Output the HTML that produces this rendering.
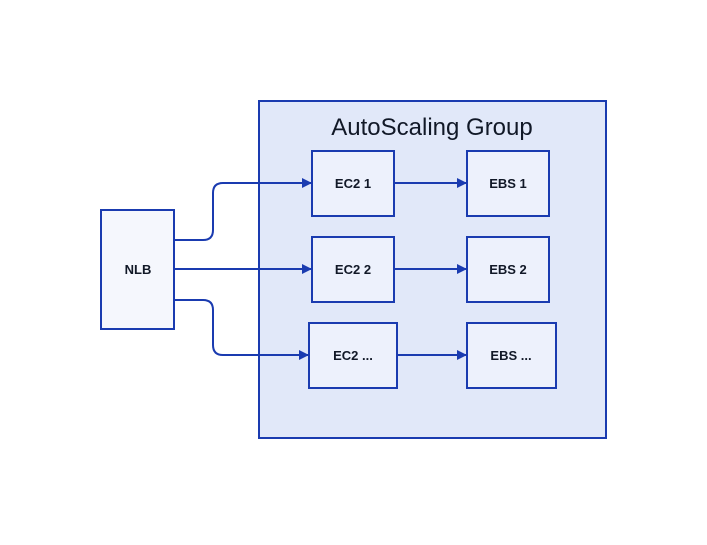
<!DOCTYPE html>
<html><head><style>body{margin:0;background:#fff}</style></head><body>
<svg width="707" height="540" xmlns="http://www.w3.org/2000/svg" font-family="'Liberation Sans',sans-serif">
<defs><marker id="a" markerWidth="10" markerHeight="10" refX="9" refY="5" orient="auto" markerUnits="userSpaceOnUse"><path d="M0,0 L10,5 L0,10 z" fill="#1a3bb0"/></marker></defs>
<rect x="259" y="101" width="347" height="337" fill="#e1e8f9" stroke="#1a3bb0" stroke-width="2"/>
<text x="432" y="135" font-size="24" text-anchor="middle" fill="#111827">AutoScaling Group</text>
<g stroke="#1a3bb0" stroke-width="2" fill="#edf1fc">
<rect x="101" y="210" width="73" height="119" fill="#f5f7fd"/>
<rect x="312" y="151" width="82" height="65"/>
<rect x="312" y="237" width="82" height="65"/>
<rect x="309" y="323" width="88" height="65"/>
<rect x="467" y="151" width="82" height="65"/>
<rect x="467" y="237" width="82" height="65"/>
<rect x="467" y="323" width="89" height="65"/>
</g>
<g stroke="#1a3bb0" stroke-width="2" fill="none" marker-end="url(#a)">
<path d="M174,240 H203 Q213,240 213,230 V193 Q213,183 223,183 H311"/>
<path d="M174,269 H311"/>
<path d="M174,300 H203 Q213,300 213,310 V345 Q213,355 223,355 H308"/>
<path d="M394,183 H466"/>
<path d="M394,269 H466"/>
<path d="M397,355 H466"/>
</g>
<g font-size="13" font-weight="bold" text-anchor="middle" fill="#111827">
<text x="138" y="274">NLB</text>
<text x="353" y="188">EC2 1</text>
<text x="353" y="274">EC2 2</text>
<text x="353" y="360">EC2 ...</text>
<text x="508" y="188">EBS 1</text>
<text x="508" y="274">EBS 2</text>
<text x="511" y="360">EBS ...</text>
</g>
</svg>
</body></html>
